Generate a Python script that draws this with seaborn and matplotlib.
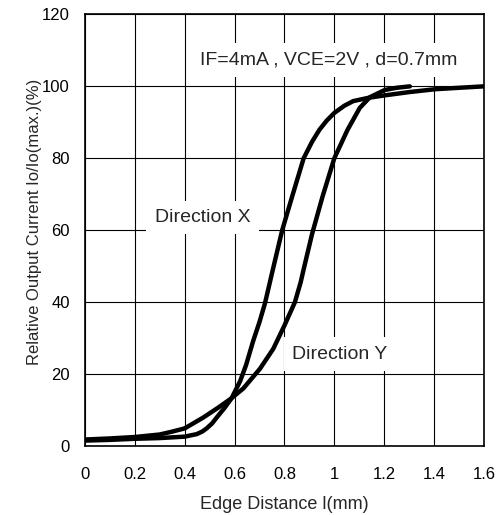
import numpy as np
import pandas as pd
import seaborn as sns
import matplotlib
matplotlib.use("Agg")
import matplotlib.pyplot as plt

# values
dist_x = [0, 0.1, 0.2, 0.3, 0.4, 0.448, 0.47, 0.488, 0.51, 0.528, 0.561, 0.588,
          0.622, 0.646, 0.675, 0.7, 0.722, 0.755, 0.791, 0.831, 0.877, 0.91,
          0.94, 0.97, 1.0, 1.04, 1.076, 1.136, 1.203, 1.3, 1.404, 1.5, 1.6]
curr_x = [1.5, 1.7, 2.0, 2.2, 2.6, 3.3, 4.0, 4.9, 6.3, 7.9, 10.7, 13.3,
          18.0, 22.5, 29.3, 34.5, 39.7, 49.5, 60.0, 69.4, 80.0, 84.5,
          87.9, 90.5, 92.6, 94.6, 95.9, 96.8, 97.5, 98.4, 99.2, 99.6, 100]

dist_y = [0, 0.1, 0.2, 0.3, 0.35, 0.4, 0.474, 0.535, 0.588, 0.635, 0.702, 0.755,
          0.80, 0.842, 0.865, 0.88, 0.911, 0.953, 1.0, 1.053, 1.102, 1.143,
          1.203, 1.25, 1.303]
curr_y = [1.8, 2.1, 2.5, 3.2, 4.0, 4.9, 7.9, 10.7, 13.3, 16.0, 21.5, 27.0,
          33.5, 40.0, 45.5, 50.0, 59.0, 69.4, 80.0, 87.9, 94.0, 97.0,
          99.0, 99.6, 100]

x_ticks = [0, 0.2, 0.4, 0.6, 0.8, 1.0, 1.2, 1.4, 1.6]
x_tick_labels = ["0", "0.2", "0.4", "0.6", "0.8", "1", "1.2", "1.4", "1.6"]
y_ticks = [0, 20, 40, 60, 80, 100, 120]

sns.set_style("white")
plt.rcParams['font.family'] = ['Liberation Sans', 'DejaVu Sans']

fig = plt.figure(figsize=(5.03, 5.15), dpi=100)
ax = fig.add_axes([0.169, 0.134, 0.793, 0.838])

df_x = pd.DataFrame({"dist": dist_x, "curr": curr_x})
df_y = pd.DataFrame({"dist": dist_y, "curr": curr_y})
for d in (df_x, df_y):
    sns.lineplot(data=d, x="dist", y="curr", color="black", linewidth=3.2,
                 sort=False, estimator=None, ax=ax, zorder=5,
                 solid_joinstyle="round", solid_capstyle="round")

ax.set_xlim(0, 1.6)
ax.set_ylim(0, 120)
ax.set_xticks(x_ticks)
ax.set_xticklabels(x_tick_labels)
ax.set_yticks(y_ticks)
ax.grid(True, color="black", linewidth=0.8)
ax.set_axisbelow(True)
for s in ax.spines.values():
    s.set_color("black")
    s.set_linewidth(1.2)
ax.tick_params(axis="both", length=0, labelsize=12, colors="black")
ax.tick_params(axis="x", pad=15)
ax.tick_params(axis="y", pad=11)

ax.set_xlabel("Edge Distance l(mm)", fontsize=13)
ax.set_ylabel("Relative Output Current Io/Io(max.)(%)", fontsize=12)
ax.xaxis.set_label_coords(0.5, -0.115)
ax.yaxis.set_label_coords(-0.107, 0.52)

box = dict(facecolor="white", edgecolor="none", pad=6)
ax.text(0.978, 107.4, "IF=4mA , VCE=2V , d=0.7mm", fontsize=14, ha="center",
        va="center", bbox=box, zorder=3)
ax.text(0.471, 63.5, "Direction X", fontsize=14, ha="center", va="center",
        bbox=box, zorder=3)
ax.text(1.022, 25.5, "Direction Y", fontsize=14, ha="center", va="center",
        bbox=box, zorder=3)

plt.savefig("out.png", dpi=100)
